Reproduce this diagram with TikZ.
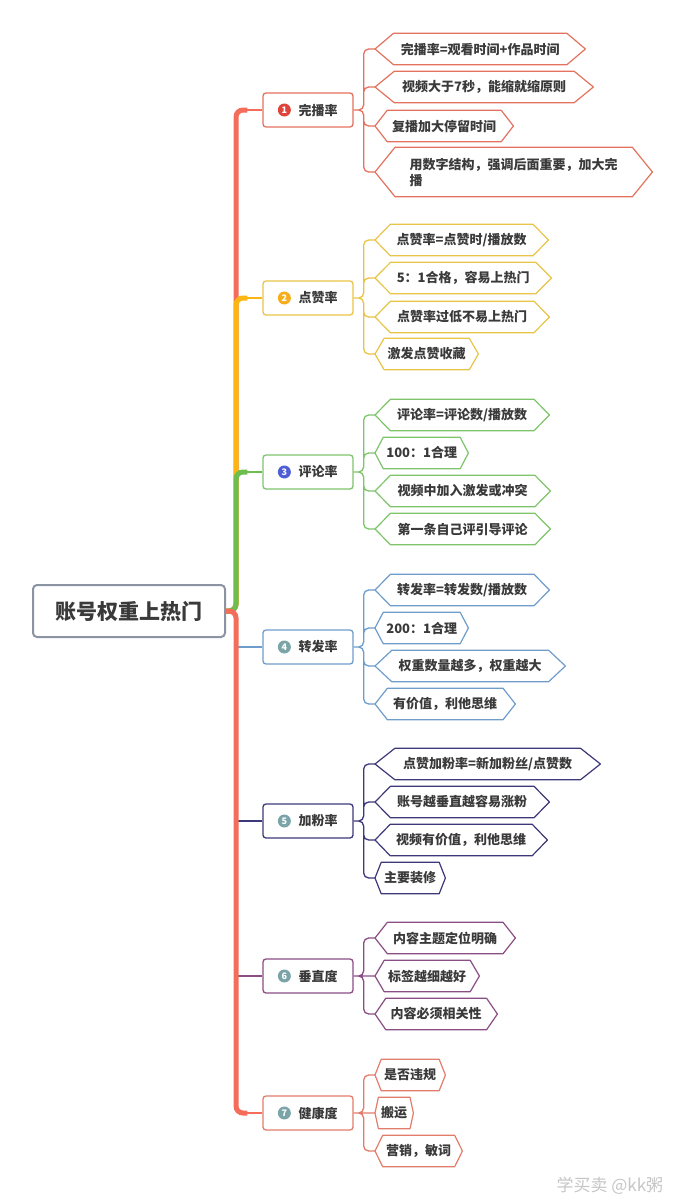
\documentclass[tikz,border=0pt]{standalone}
\usepackage{fontspec}
\setmainfont{Noto Sans CJK SC}
\usetikzlibrary{calc}
\definecolor{txt}{HTML}{3A3A3A}
\definecolor{rootgray}{HTML}{8C94A4}
\definecolor{tr1}{HTML}{F46D5A}
\definecolor{tr2}{HTML}{FBB614}
\definecolor{tr3}{HTML}{6DBE4F}
\definecolor{c1}{HTML}{E3735F}
\definecolor{c2}{HTML}{E8C447}
\definecolor{c3}{HTML}{7DC46B}
\definecolor{c4}{HTML}{6F9DCB}
\definecolor{c5}{HTML}{3D3879}
\definecolor{c6}{HTML}{8A4D84}
\definecolor{c7}{HTML}{E27C6B}
\definecolor{d1}{HTML}{E04438}
\definecolor{d2}{HTML}{F6AE1C}
\definecolor{d3}{HTML}{4E5FD6}
\definecolor{dt}{HTML}{7AA4A8}
\begin{document}
\begin{tikzpicture}[x=1pt, y=-1pt, text=txt,
    rootbox/.style={draw=rootgray, line width=2pt, rounded corners=4pt, fill=white,
      minimum width=192pt, minimum height=52pt, font=\fontsize{21}{24}\selectfont\bfseries},
    mainbox/.style={draw=#1, line width=1.3pt, rounded corners=3pt, fill=white,
      minimum width=90pt, minimum height=34pt, font=\fontsize{13}{16}\selectfont\bfseries},
    badge/.style={circle, fill=#1, text=white, inner sep=0pt, minimum size=13pt,
      font=\fontsize{9}{9}\selectfont\bfseries},
    leaf/.style={anchor=west, inner sep=0pt, minimum width=#1, minimum height=31pt,
      font=\fontsize{13}{16}\selectfont\bfseries},
    hexline/.style={draw=#1, line width=1.2pt, line join=round},
    trunk/.style={line width=5pt, rounded corners=7pt},
    twig/.style={draw=#1, line width=1.3pt, rounded corners=5pt}]
  \useasboundingbox[fill=white] (0,0) rectangle (685,1200);

  % root and main topics
  \node[rootbox] (root) at (129,611) {账号权重上热门};
  \coordinate (spine) at (236,611);
  \node[mainbox=c1] (m1) at (308,110) {\hspace{20pt}完播率};
  \node[mainbox=c2] (m2) at (308,298) {\hspace{20pt}点赞率};
  \node[mainbox=c3] (m3) at (308,472) {\hspace{20pt}评论率};
  \node[mainbox=c4] (m4) at (308,647) {\hspace{20pt}转发率};
  \node[mainbox=c5] (m5) at (308,821) {\hspace{20pt}加粉率};
  \node[mainbox=c6] (m6) at (308,976) {\hspace{20pt}垂直度};
  \node[mainbox=c7] (m7) at (308,1113) {\hspace{20pt}健康度};
  \node[badge=d1] (n1) at ([xshift=22pt]m1.west) {1};
  \node[badge=d2] (n2) at ([xshift=22pt]m2.west) {2};
  \node[badge=d3] (n3) at ([xshift=22pt]m3.west) {3};
  \node[badge=dt] (n4) at ([xshift=22pt]m4.west) {4};
  \node[badge=dt] (n5) at ([xshift=22pt]m5.west) {5};
  \node[badge=dt] (n6) at ([xshift=22pt]m6.west) {6};
  \node[badge=dt] (n7) at ([xshift=22pt]m7.west) {7};

  % trunk
  \draw[twig=c4] (m4.west -| spine) -- (m4.west);
  \draw[twig=c5] (m5.west -| spine) -- (m5.west);
  \draw[twig=c6] (m6.west -| spine) -- (m6.west);
  \draw[trunk, tr1] (root.east) -- (spine) |- ([xshift=-15pt]m1.west);
  \draw[tr1, line width=2pt] ([xshift=-16pt]m1.west) -- (m1.west);
  \draw[trunk, tr2] (root.east) -- (spine) |- ([xshift=-15pt]m2.west);
  \draw[tr2, line width=2pt] ([xshift=-16pt]m2.west) -- (m2.west);
  \draw[trunk, tr3] (root.east) -- (spine) |- ([xshift=-15pt]m3.west);
  \draw[tr3, line width=2pt] ([xshift=-16pt]m3.west) -- (m3.west);
  \draw[trunk, tr1] (root.east) -- (spine) |- ([xshift=-15pt]m7.west);
  \draw[tr1, line width=2pt] ([xshift=-16pt]m7.west) -- (m7.west);

  % 1
  \node[leaf=210pt] (l11) at (375,49) {完播率=观看时间+作品时间};
  \node[leaf=218pt] (l12) at (375,87) {视频大于7秒，能缩就缩原则};
  \node[leaf=138pt] (l13) at (375,126) {复播加大停留时间};
  \node[leaf=277pt, align=left, minimum height=49pt] (l14) at (375,172) {用数字结构，强调后面重要，加大完\\播};
  \draw[twig=c1] (m1.east) -- ++(10,0) |- (l11.west) (m1.east) -- ++(10,0) |- (l12.west)
    (m1.east) -- ++(10,0) |- (l13.west) (m1.east) -- ++(10,0) |- (l14.west);

  % 2
  \node[leaf=173pt] (l21) at (375,240) {点赞率=点赞时/播放数};
  \node[leaf=176pt] (l22) at (375,278) {5：1合格，容易上热门};
  \node[leaf=174pt] (l23) at (375,317) {点赞率过低不易上热门};
  \node[leaf=103pt] (l24) at (375,354) {激发点赞收藏};
  \draw[twig=c2] (m2.east) -- ++(10,0) |- (l21.west) (m2.east) -- ++(10,0) |- (l22.west)
    (m2.east) -- ++(10,0) |- (l23.west) (m2.east) -- ++(10,0) |- (l24.west);

  % 3
  \node[leaf=174pt] (l31) at (375,415) {评论率=评论数/播放数};
  \node[leaf=93pt] (l32) at (375,453) {100：1合理};
  \node[leaf=175pt] (l33) at (375,491) {视频中加入激发或冲突};
  \node[leaf=175pt] (l34) at (375,529) {第一条自己评引导评论};
  \draw[twig=c3] (m3.east) -- ++(10,0) |- (l31.west) (m3.east) -- ++(10,0) |- (l32.west)
    (m3.east) -- ++(10,0) |- (l33.west) (m3.east) -- ++(10,0) |- (l34.west);

  % 4
  \node[leaf=174pt] (l41) at (375,590) {转发率=转发数/播放数};
  \node[leaf=93pt] (l42) at (375,628) {200：1合理};
  \node[leaf=190pt] (l43) at (375,666) {权重数量越多，权重越大};
  \node[leaf=140pt] (l44) at (375,704) {有价值，利他思维};
  \draw[twig=c4] (m4.east) -- ++(10,0) |- (l41.west) (m4.east) -- ++(10,0) |- (l42.west)
    (m4.east) -- ++(10,0) |- (l43.west) (m4.east) -- ++(10,0) |- (l44.west);

  % 5
  \node[leaf=225pt] (l51) at (375,764) {点赞加粉率=新加粉丝/点赞数};
  \node[leaf=174pt] (l52) at (375,802) {账号越垂直越容易涨粉};
  \node[leaf=172pt] (l53) at (375,840) {视频有价值，利他思维};
  \node[leaf=70pt] (l54) at (375,878) {主要装修};
  \draw[twig=c5] (m5.east) -- ++(10,0) |- (l51.west) (m5.east) -- ++(10,0) |- (l52.west)
    (m5.east) -- ++(10,0) |- (l53.west) (m5.east) -- ++(10,0) |- (l54.west);

  % 6
  \node[leaf=140pt] (l61) at (375,938) {内容主题定位明确};
  \node[leaf=104pt] (l62) at (375,976) {标签越细越好};
  \node[leaf=122pt] (l63) at (375,1014) {内容必须相关性};
  \draw[twig=c6] (m6.east) -- ++(10,0) |- (l61.west) (m6.east) -- (l62.west)
    (m6.east) -- ++(10,0) |- (l63.west);

  % 7
  \node[leaf=70pt] (l71) at (375,1075) {是否违规};
  \node[leaf=38pt] (l72) at (375,1113) {搬运};
  \node[leaf=87pt] (l73) at (375,1151) {营销，敏词};
  \draw[twig=c7] (m7.east) -- ++(10,0) |- (l71.west) (m7.east) -- (l72.west)
    (m7.east) -- ++(10,0) |- (l73.west);

  % hexagon outlines
  \foreach \l/\c in {l11/c1,l12/c1,l13/c1,l14/c1,l21/c2,l22/c2,l23/c2,l24/c2,
      l31/c3,l32/c3,l33/c3,l34/c3,l41/c4,l42/c4,l43/c4,l44/c4,
      l51/c5,l52/c5,l53/c5,l54/c5,l61/c6,l62/c6,l63/c6,l71/c7,l72/c7,l73/c7}
    \draw[hexline=\c] let \p1=(\l.west), \p2=(\l.east), \n1={min(20,0.088*(\x2-\x1))} in
      (\l.west) -- ([xshift=\n1]\l.north west) -- ([xshift=-\n1]\l.north east) -- (\l.east)
      -- ([xshift=-\n1]\l.south east) -- ([xshift=\n1]\l.south west) -- cycle;

  \node[anchor=west, text=gray!45, font=\fontsize{17}{17}\selectfont] (mark) at (553,1186) {学买卖 @kk粥};
\end{tikzpicture}
\end{document}
